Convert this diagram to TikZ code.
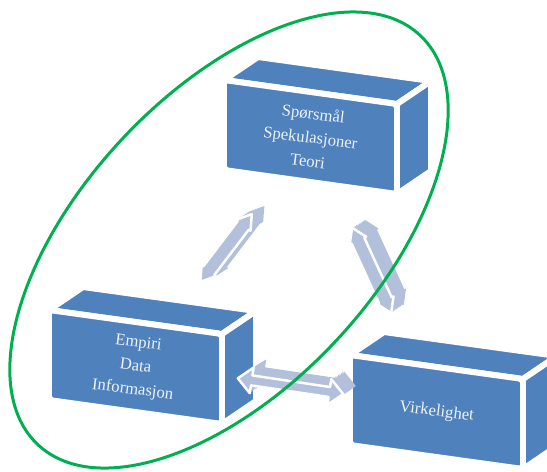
\documentclass[tikz,border=0pt]{standalone}
\usepackage{fontspec}
\setmainfont{Liberation Serif}
\usetikzlibrary{calc}

\definecolor{boxblue}{RGB}{79,129,189}
\definecolor{linkblue}{RGB}{178,192,220}
\definecolor{ringgreen}{RGB}{0,176,80}

\tikzset{face/.style = {fill=boxblue, draw=white, line width=3.4pt, line join=round}}
\tikzset{boxtext/.style = {text=white!90!boxblue, align=center, rotate=-7, font=\fontsize{9.5}{13.5}\selectfont}}
\tikzset{linkface/.style = {fill=linkblue, draw=white, line width=1.4pt, line join=round}}
\tikzset{ring/.style = {draw=ringgreen, line width=1.7pt}}

% 3D box: #1 name, #2 front corner, #3 text
\newcommand\cubebox[3]{%
    \begin{scope}[shift={#2}]
        \filldraw[face] (0,0) -- (173,24) -- (207,1) -- (34,-23) -- cycle;
        \filldraw[face] (173,24) -- (207,1) -- (207,91) -- (173,114) -- cycle;
        \filldraw[face, rounded corners=2pt] (0,0) -- (173,24) -- (173,114) -- (0,90) -- cycle;
        \node[boxtext] (#1) at (86.5,57) {#3};
    \end{scope}}

% 3D double arrow: #1 from, #2 to, #3 shaft, #4 head (half widths)
\newcommand\barshape[2]{%
    (0,0) -- (14,#2) -- (14,#1) -- (\barlen-14,#1) -- (\barlen-14,#2) -- (\barlen,0)
    -- (\barlen-14,-#2) -- (\barlen-14,-#1) -- (14,-#1) -- (14,-#2) -- cycle}
\newcommand\linkbar[4]{%
    \pgfpointdiff{\pgfpointanchor{#1}{center}}{\pgfpointanchor{#2}{center}}%
    \pgfgetlastxy\barx\bary
    \pgfmathsetmacro\barang{atan2(\bary,\barx)}%
    \pgfmathsetmacro\barlen{veclen(\barx,\bary)/0.5691}%
    \foreach \dd in {0,0.1,...,1}
        \fill[linkblue, shift={(#1)}, shift={(14*\dd,-9*\dd)}, rotate=\barang, x=0.02cm, y=0.02cm]
            \barshape{#3}{#4};
    \filldraw[linkface, shift={(#1)}, rotate=\barang, x=0.02cm, y=0.02cm] \barshape{#3}{#4};
}

\begin{document}
\begin{tikzpicture}[x=0.02cm, y=-0.02cm]
    \useasboundingbox (0,0) rectangle (547,471);

    % boxes
    \cubebox{theory}{(224,80)}{Spørsmål\\Spekulasjoner\\Teori}
    \cubebox{empiri}{(49,310)}{Empiri\\Data\\Informasjon}
    \cubebox{reality}{(350,355)}{Virkelighet}

    % link ends
    \coordinate (et1) at ($(empiri)!0.37!(theory)$);
    \coordinate (et2) at ($(empiri)!0.665!(theory)$);
    \coordinate (tr1) at ($(theory)!0.33!(reality)$);
    \coordinate (tr2) at ($(theory)!0.64!(reality)$);
    \coordinate (er1) at ($(empiri)!0.34!(reality)+(0,-4)$);
    \coordinate (er2) at ($(empiri)!0.69!(reality)+(0,-4)$);

    % links
    \linkbar{et1}{et2}{7}{9}
    \linkbar{tr1}{tr2}{7}{9}
    \linkbar{er1}{er2}{5}{13}

    % ring round theory and empiri
    \draw[ring, rotate around={47:(229,240)}] (229,240) ellipse [x radius=280, y radius=147];
\end{tikzpicture}
\end{document}
